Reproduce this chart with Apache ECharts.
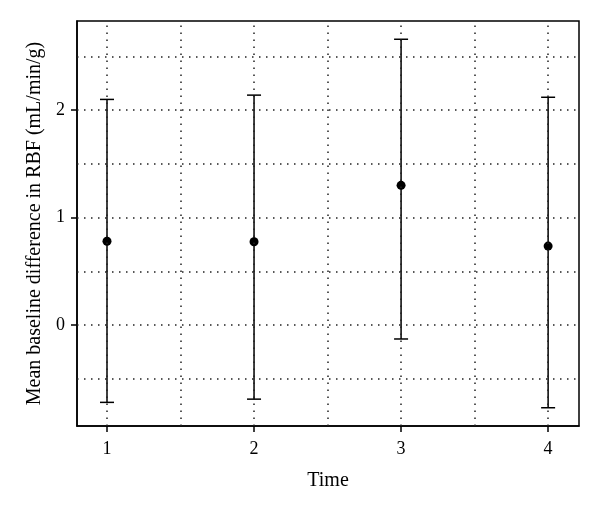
<!DOCTYPE html>
<html><head><meta charset="utf-8">
<script src="https://cdn.jsdelivr.net/npm/echarts@6/dist/echarts.min.js"></script>
<style>html,body{margin:0;padding:0;background:#fff}#c{width:600px;height:512px}</style>
</head><body><div id="c"></div>
<script>
var times = [1, 2, 3, 4];
var means = [0.78, 0.775, 1.30, 0.735];
var upper = [2.10, 2.14, 2.66, 2.12];
var lower = [-0.72, -0.69, -0.13, -0.77];
var xTicks = [1, 2, 3, 4];
var yTicks = [0, 1, 2];
var xGrid = [1, 1.5, 2, 2.5, 3, 3.5, 4];
var yGrid = [-0.5, 0, 0.5, 1, 1.5, 2, 2.5];

var font = '"Liberation Serif", "DejaVu Serif", serif';
var chart = echarts.init(document.getElementById('c'));
var gridLines = [];
xGrid.forEach(function (v) { gridLines.push({ xAxis: v }); });
yGrid.forEach(function (v) { gridLines.push({ yAxis: v }); });

chart.setOption({
  animation: false,
  backgroundColor: '#fff',
  grid: { left: 77, right: 21, top: 21, bottom: 86, show: true, borderColor: '#000', borderWidth: 1.5, backgroundColor: 'transparent' },
  xAxis: {
    type: 'value', min: 0.796, max: 4.21,
    name: 'Time', nameLocation: 'middle', nameGap: 45,
    nameTextStyle: { fontFamily: font, fontSize: 20, color: '#000' },
    axisLine: { show: true, onZero: false, lineStyle: { color: '#000', width: 1.5 } },
    splitLine: { show: false },
    axisTick: { show: true, inside: false, customValues: xTicks, length: 6, lineStyle: { color: '#000', width: 1.5 } },
    axisLabel: { customValues: xTicks, fontFamily: font, fontSize: 18, color: '#000', margin: 14 }
  },
  yAxis: {
    type: 'value', min: -0.94, max: 2.83,
    name: 'Mean baseline difference in RBF (mL/min/g)', nameLocation: 'middle', nameGap: 26,
    nameTextStyle: { fontFamily: font, fontSize: 20, color: '#000' },
    axisLine: { show: true, onZero: false, lineStyle: { color: '#000', width: 1.5 } },
    splitLine: { show: false },
    axisTick: { show: true, inside: false, customValues: yTicks, length: 6, lineStyle: { color: '#000', width: 1.5 } },
    axisLabel: { customValues: yTicks, fontFamily: font, fontSize: 18, color: '#000', margin: 12 }
  },
  series: [
    {
      type: 'custom',
      data: times.map(function (t, i) { return [t, lower[i], upper[i]]; }),
      renderItem: function (params, api) {
        var lo = api.coord([api.value(0), api.value(1)]);
        var hi = api.coord([api.value(0), api.value(2)]);
        var hw = 7;
        var st = { stroke: '#000', lineWidth: 1.5 };
        return { type: 'group', children: [
          { type: 'line', shape: { x1: lo[0], y1: lo[1], x2: hi[0], y2: hi[1] }, style: st },
          { type: 'line', shape: { x1: hi[0] - hw, y1: hi[1], x2: hi[0] + hw, y2: hi[1] }, style: st },
          { type: 'line', shape: { x1: lo[0] - hw, y1: lo[1], x2: lo[0] + hw, y2: lo[1] }, style: st }
        ]};
      },
      z: 3
    },
    {
      type: 'scatter',
      data: times.map(function (t, i) { return [t, means[i]]; }),
      symbol: 'circle', symbolSize: 9,
      itemStyle: { color: '#000', opacity: 1 },
      z: 4,
      markLine: {
        silent: true, symbol: 'none', animation: false,
        label: { show: false },
        lineStyle: { color: '#222', width: 1.5, type: [1.5, 5.5] },
        data: gridLines
      }
    }
  ]
});
</script></body></html>
